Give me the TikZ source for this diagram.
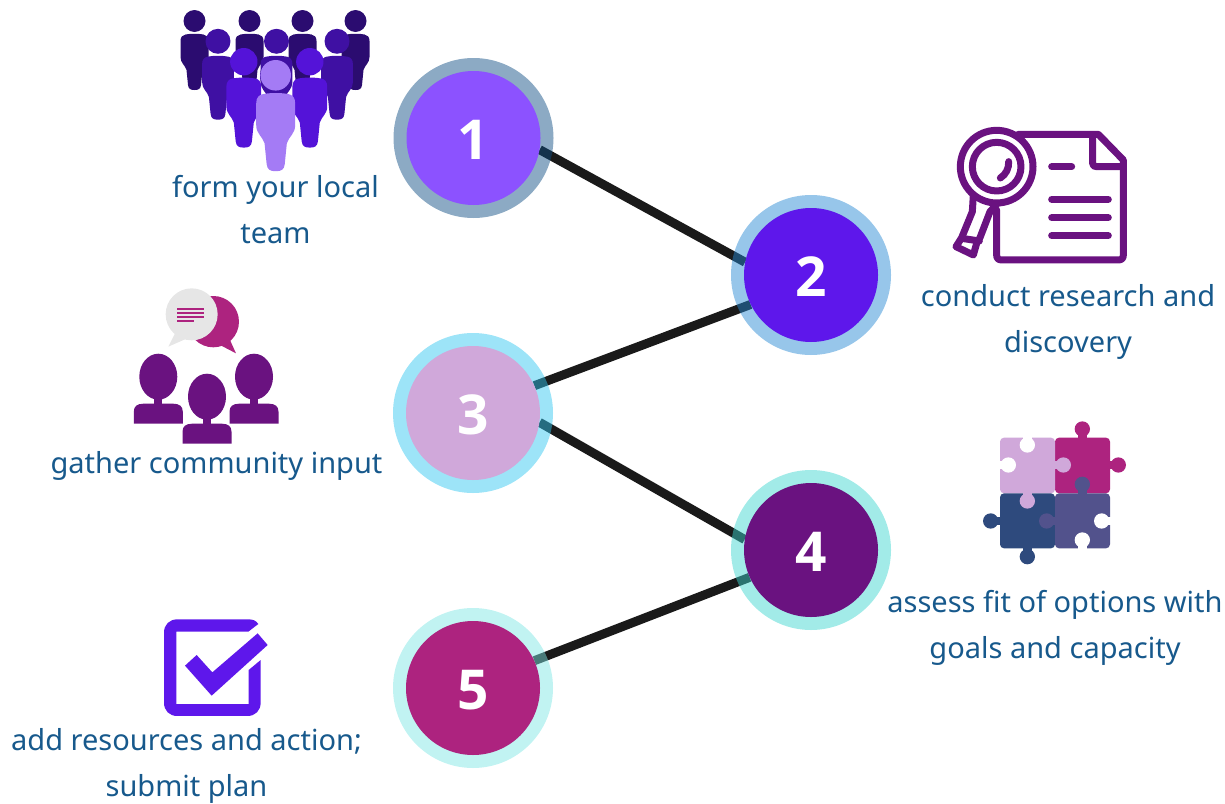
\documentclass[tikz,border=0pt]{standalone}
\usepackage{fontspec}
\usetikzlibrary{backgrounds}
\setmainfont{Noto Sans}
\newfontfamily\numfont{Open Sans}
\definecolor{txtblue}{HTML}{17598C}
\definecolor{ink}{HTML}{1A1A1A}
\definecolor{pdark}{HTML}{2B0C70}
\definecolor{pmid}{HTML}{3F10A3}
\definecolor{pviolet}{HTML}{5413D8}
\definecolor{plight}{HTML}{A47BF5}
\definecolor{cone}{HTML}{8C52FF}
\definecolor{ctwo}{HTML}{5E17EB}
\definecolor{cthree}{HTML}{D0A8DA}
\definecolor{cfour}{HTML}{6A1280}
\definecolor{cfive}{HTML}{AD237F}
\definecolor{rone}{HTML}{0F4E84}
\definecolor{rtwo}{HTML}{2688D3}
\definecolor{rthree}{HTML}{32C6F0}
\definecolor{rfour}{HTML}{3DD5CF}
\definecolor{rfive}{HTML}{7EE6E4}
\definecolor{navy}{HTML}{2E4A7D}
\definecolor{slate}{HTML}{52528C}
\definecolor{bubble}{HTML}{E6E6E6}
\tikzset{
 x=1pt,y=-1pt,
 disc/.style={circle,minimum size=134pt,inner sep=0pt,fill=#1,text=white,text height=42pt,text depth=0pt,font=\numfont\fontsize{55}{55}\selectfont\bfseries},
 ring/.style={circle,minimum size=160pt,inner sep=0pt,fill=#1,fill opacity=0.48},
 lbl/.style={text=txtblue,font=\fontsize{29}{46}\selectfont,align=center,inner sep=0pt},
 link/.style={draw=ink,line width=9pt},
 icon/.style={draw=cfour,line width=7pt,line cap=round,line join=round},
}
\newcommand{\person}[4]{%
 \begin{scope}[shift={(#1,#2)},scale=#3]
 \fill[#4] (0,0) circle (11);
 \fill[#4] (-9,13.5) .. controls (-4,12.5) and (4,12.5) .. (9,13.5) .. controls (12,14) and (14,16) .. (14,20)
  -- (14,36) .. controls (14,42) and (9.5,44) .. (8,49) -- (6.5,64) .. controls (6,68) and (4,69) .. (0,69)
  .. controls (-4,69) and (-6,68) .. (-6.5,64) -- (-8,49) .. controls (-9.5,44) and (-14,42) .. (-14,36)
  -- (-14,20) .. controls (-14,16) and (-12,14) .. (-9,13.5) -- cycle;
 \end{scope}}
\newcommand{\bust}[2]{%
 \begin{scope}[shift={(#1,#2)}]
 \fill[cfour] (0,0) ellipse (19 and 23);
 \fill[cfour] (-4,18) rectangle (4,32);
 \fill[cfour] (-24.5,47) -- (-24.5,35) .. controls (-24.5,29.5) and (-21,27) .. (-15,27) -- (15,27) .. controls (21,27) and (24.5,29.5) .. (24.5,35) -- (24.5,47) -- cycle;
 \end{scope}}
\newcommand{\knob}[5]{%
 \draw[#1,line width=8.5pt] (#2,#3) -- (#4,#5);
 \fill[#1] (#4,#5) circle (23);}
\begin{document}
\begin{tikzpicture}
\useasboundingbox (0,0) rectangle (1225,803);
% numbered circles
\node[ring=rone] (r1) at (473.5,138) {};
\node[ring=rtwo] (r2) at (811,275) {};
\node[ring=rthree] (r3) at (473,413) {};
\node[ring=rfour] (r4) at (811,550) {};
\node[ring=rfive] (r5) at (473,688) {};
\node[disc=cone] (n1) at (473.5,138) {1};
\node[disc=ctwo] (n2) at (811,275) {2};
\node[disc=cthree] (n3) at (473,413) {3};
\node[disc=cfour] (n4) at (811,550) {4};
\node[disc=cfive] (n5) at (473,688) {5};
\begin{pgfonlayer}{background}
\draw[link] (n1.-10) -- (n2.169);
\draw[link] (n2.206) -- (n3.24.6);
\draw[link] (n3.-8.6) -- (n4.171.4);
\draw[link] (n4.204.6) -- (n5.24.6);
\end{pgfonlayer}
% labels
\node[lbl] (t1) at (275.5,210) {form your local\\team};
\node[lbl] (t2) at (1068,322) {conduct research and\\discovery};
\node[lbl] (t3) at (216.5,466) {gather community input};
\node[lbl] (t4) at (1055,628) {assess fit of options with\\goals and capacity};
\node[lbl] (t5) at (186.5,766) {add resources and action;\\submit plan};
% team icon
\person{194.5}{21}{1}{pdark}
\person{249.5}{21}{1}{pdark}
\person{302.5}{21}{1}{pdark}
\person{355.5}{21}{1}{pdark}
\person{218}{41.3}{1.136}{pmid}
\person{276.5}{41.3}{1.136}{pmid}
\person{337}{41.3}{1.136}{pmid}
\person{243.8}{61.7}{1.245}{pviolet}
\person{309.8}{61.7}{1.245}{pviolet}
\fill[pmid] (276,76) ellipse (16 and 19.5);
\person{275.7}{75.3}{1.39}{plight}
% research icon
\begin{scope}[shift={(940,115)},x=0.3333pt,y=-0.3333pt]
\draw[icon] (235,58) -- (475,58) -- (550,135) -- (550,420) .. controls (550,430) and (545,435) .. (535,435) -- (185,435) .. controls (175,435) and (170,430) .. (170,420) -- (170,285);
\draw[icon,line join=round] (458,60) -- (458,145) .. controls (458,152) and (462,155) .. (470,155) -- (550,155);
\draw[icon] (335,155) -- (395,155);
\draw[icon] (335,253) -- (505,253);
\draw[icon] (335,308) -- (505,308);
\draw[icon] (335,362) -- (505,362);
\draw[icon] (170,155) circle (109);
\draw[icon] (170,155) circle (73);
\draw[icon] (206,140) .. controls (207,160) and (198,178) .. (181,189);
\draw[icon] (100,240) -- (97,290) -- (65,368) -- (48,395) -- (100,420) -- (110,385) -- (120,368) -- (150,290) -- (170,268);
\draw[icon] (65,370) -- (118,378);
\end{scope}
% community icon
\begin{scope}[shift={(125,280)},x=0.3333pt,y=-0.3333pt]
\fill[cfive] (265,125) circle (77);
\fill[cfive] (315,180) -- (333,220) -- (285,195) -- cycle;
\fill[bubble] (200,103) circle (78);
\fill[bubble] (150,160) -- (130,200) -- (180,178) -- cycle;
\foreach \yy in {87,99,110} \fill[cfive] (157,\yy-2.7) rectangle (237,\yy+2.7);
\fill[cfive] (157,119.5) rectangle (207,125);
\end{scope}
\bust{158.3}{376.7}
\bust{207}{396.7}
\bust{254}{376.7}
% puzzle icon
\begin{scope}[shift={(975,415)},x=0.3333pt,y=-0.3333pt]
\fill[cfive,rounded corners=4pt] (240,68) rectangle (405,235);
\fill[cthree,rounded corners=4pt] (75,68) rectangle (240,235);
\fill[navy,rounded corners=4pt] (75,235) rectangle (240,400);
\fill[slate,rounded corners=4pt] (240,235) rectangle (405,400);
\knob{cfive}{322}{70}{322}{42}
\knob{cfive}{403}{150}{430}{150}
\knob{navy}{77}{318}{47}{318}
\knob{navy}{157}{398}{157}{425}
\knob{cthree}{238}{150}{265}{150}
\knob{cthree}{157}{233}{157}{258}
\knob{slate}{322}{237}{322}{208}
\knob{slate}{242}{318}{215}{318}
\knob{white}{157}{66}{157}{90}
\knob{white}{73}{150}{100}{150}
\knob{white}{407}{318}{380}{318}
\knob{white}{322}{402}{322}{375}
\end{scope}
% checkbox icon
\begin{scope}[shift={(150,610)},x=0.3333pt,y=-0.3333pt]
\fill[ctwo] (325,42) .. controls (318,32) and (310,28) .. (295,28) -- (82,28) .. controls (58,28) and (42,44) .. (42,68)
 -- (42,278) .. controls (42,302) and (58,318) .. (82,318) -- (292,318) .. controls (316,318) and (332,302) .. (332,278)
 -- (332,150) -- (296,180) -- (296,282) -- (79,282) -- (79,65) -- (295,65) -- cycle;
\fill[ctwo] (105,167) -- (140,135) -- (187,187) -- (323,70) -- (353,105) -- (185,257) -- cycle;
\end{scope}
\end{tikzpicture}
\end{document}
